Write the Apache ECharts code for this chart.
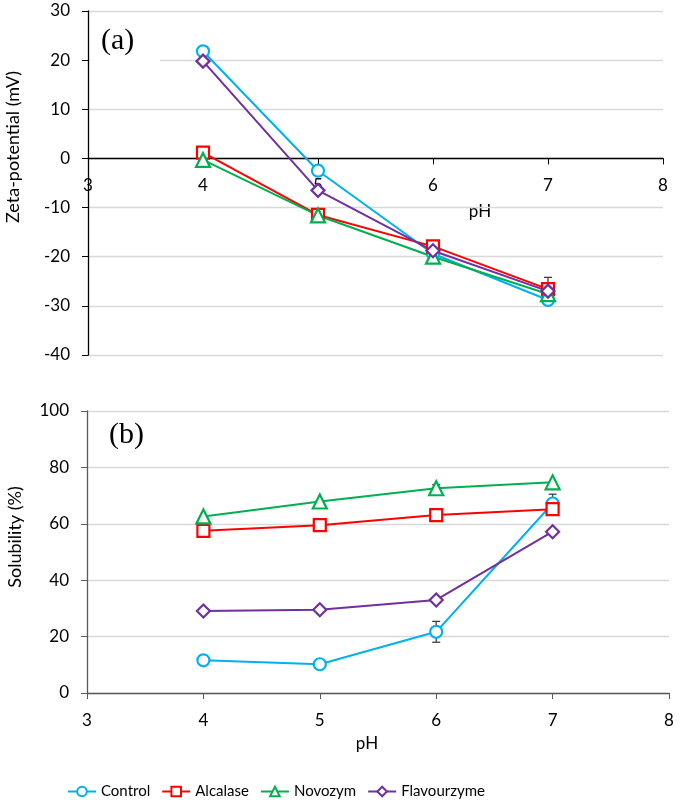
<!DOCTYPE html>
<html>
<head>
<meta charset="utf-8">
<script src="https://cdn.jsdelivr.net/npm/echarts@6/dist/echarts.min.js"></script>
<style>
html, body { margin: 0; padding: 0; background: #fff; }
#chart { width: 685px; height: 800px; }
</style>
</head>
<body>
<div id="chart"></div>
<script>
// pH points shared by both panels
var phValues = [4, 5, 6, 7]
var seriesNames = ['Control', 'Alcalase', 'Novozym', 'Flavourzyme']
var seriesColors = ['#00b0f0', '#ff0000', '#00b050', '#7030a0']
var seriesSymbols = ['circle', 'rect', 'triangle', 'diamond']

// (a) zeta-potential, mV
var zetaControl = [21.8, -2.5, -19.4, -28.8]
var zetaAlcalase = [1.2, -11.5, -17.9, -26.6]
var zetaNovozym = [-0.3, -11.6, -20.0, -27.6]
var zetaFlavourzyme = [19.8, -6.5, -18.8, -27.0]
var zetaErrFlavourzyme = [0, 0, 0, 2.8]

// (b) solubility, %
var solControl = [11.6, 10.2, 21.7, 67.2]
var solAlcalase = [57.5, 59.5, 63.1, 65.2]
var solNovozym = [62.6, 67.9, 72.6, 74.7]
var solFlavourzyme = [29.1, 29.5, 33.0, 57.2]
var solErrControl = [0, 0, 3.7, 3.3]
var solErrNovozym = [0, 0, 1.3, 0]

var font = 'Lato'
var topGrid = {left: 88, right: 22, top: 11, height: 344}
var zetaMin = -40
var zetaMax = 30

function pairs (ys) {
  return phValues.map(function (x, i) { return [x, ys[i]] })
}

function lineSeries (idx, ys, gridIdx) {
  var c = seriesColors[idx]
  return {
    name: seriesNames[idx],
    type: 'line',
    xAxisIndex: gridIdx,
    yAxisIndex: gridIdx,
    data: pairs(ys),
    symbol: seriesSymbols[idx],
    symbolSize: idx === 2 ? 14 : (idx === 3 ? 13 : 12),
    showAllSymbol: true,
    lineStyle: {color: c, width: 2},
    itemStyle: {color: '#fff', borderColor: c, borderWidth: 2.2},
    emphasis: {disabled: true},
    z: 3
  }
}

function errorItem (params, api) {
  var x = api.value(0)
  var y = api.value(1)
  var e = api.value(2)
  var hi = api.coord([x, y + e])
  var lo = api.coord([x, y - e])
  var w = 4
  var style = {stroke: '#404040', lineWidth: 1.3}
  return {
    type: 'group',
    children: [
      {type: 'line', shape: {x1: hi[0], y1: hi[1], x2: lo[0], y2: lo[1]}, style: style},
      {type: 'line', shape: {x1: hi[0] - w, y1: hi[1], x2: hi[0] + w, y2: hi[1]}, style: style},
      {type: 'line', shape: {x1: lo[0] - w, y1: lo[1], x2: lo[0] + w, y2: lo[1]}, style: style}
    ]
  }
}

function errorSeries (ys, errs, gridIdx) {
  var d = []
  for (var i = 0; i < phValues.length; i++) {
    if (errs[i] > 0) d.push([phValues[i], ys[i], errs[i]])
  }
  return {
    type: 'custom',
    xAxisIndex: gridIdx,
    yAxisIndex: gridIdx,
    renderItem: errorItem,
    encode: {x: 0, y: 1},
    data: d,
    silent: true,
    z: 2
  }
}

function xAxisOpt (gridIdx, lineColor, offset) {
  return {
    type: 'value',
    gridIndex: gridIdx,
    position: 'bottom',
    offset: offset,
    min: 3,
    max: 8,
    interval: 1,
    axisLine: {onZero: false, lineStyle: {color: lineColor, width: 1.3}},
    axisTick: {show: true, length: 6, lineStyle: {color: lineColor}},
    axisLabel: {fontFamily: font, fontSize: 17, color: '#000', margin: 19},
    splitLine: {show: false}
  }
}

function yAxisOpt (gridIdx, min, max, interval, lineColor) {
  return {
    type: 'value',
    gridIndex: gridIdx,
    min: min,
    max: max,
    interval: interval,
    axisLine: {show: true, onZero: false, lineStyle: {color: lineColor, width: 1.3}},
    axisTick: {show: true, length: 6, lineStyle: {color: lineColor}},
    axisLabel: {fontFamily: font, fontSize: 17, color: '#000', margin: 18},
    splitLine: {show: true, lineStyle: {color: '#d9d9d9', width: 1.3}}
  }
}

// top x axis sits on the zero line: lift it from the grid bottom
var zeroLift = -topGrid.height * (0 - zetaMin) / (zetaMax - zetaMin)

var myChart = echarts.init(document.getElementById('chart'))
myChart.setOption({
  animation: false,
  backgroundColor: '#fff',
  grid: [
    topGrid,
    {left: 87, right: 16, top: 411, height: 282}
  ],
  xAxis: [xAxisOpt(0, '#000', zeroLift), xAxisOpt(1, '#595959', 0)],
  yAxis: [yAxisOpt(0, zetaMin, zetaMax, 10, '#000'), yAxisOpt(1, 0, 100, 20, '#595959')],
  legend: {
    left: 62,
    top: 779,
    itemWidth: 28,
    itemHeight: 12,
    itemGap: 11,
    textStyle: {fontFamily: font, fontSize: 15, color: '#000'},
    data: seriesNames
  },
  graphic: [
    {type: 'rect', left: 90, top: 26, shape: {width: 70, height: 38}, style: {fill: '#fff'}, z: 10},
    {type: 'text', left: 101, top: 26, style: {text: '(a)', font: '30px "Liberation Serif"', fill: '#000'}, z: 11},
    {type: 'text', left: 109, top: 420, style: {text: '(b)', font: '30px "Liberation Serif"', fill: '#000'}, z: 11},
    {type: 'text', x: 480, y: 212, style: {text: 'pH', font: '17px Lato', fill: '#000', align: 'center', verticalAlign: 'middle'}},
    {type: 'text', x: 367, y: 744, style: {text: 'pH', font: '17px Lato', fill: '#000', align: 'center', verticalAlign: 'middle'}},
    {type: 'text', x: 13, y: 147, rotation: Math.PI / 2, style: {text: 'Zeta-potential (mV)', font: '18px Lato', fill: '#000', align: 'center', verticalAlign: 'middle'}},
    {type: 'text', x: 15, y: 537, rotation: Math.PI / 2, style: {text: 'Solubility (%)', font: '18px Lato', fill: '#000', align: 'center', verticalAlign: 'middle'}}
  ],
  series: [
    errorSeries(zetaFlavourzyme, zetaErrFlavourzyme, 0),
    errorSeries(solControl, solErrControl, 1),
    errorSeries(solNovozym, solErrNovozym, 1),
    lineSeries(0, zetaControl, 0),
    lineSeries(1, zetaAlcalase, 0),
    lineSeries(2, zetaNovozym, 0),
    lineSeries(3, zetaFlavourzyme, 0),
    lineSeries(0, solControl, 1),
    lineSeries(1, solAlcalase, 1),
    lineSeries(2, solNovozym, 1),
    lineSeries(3, solFlavourzyme, 1)
  ]
})
</script>
</body>
</html>
